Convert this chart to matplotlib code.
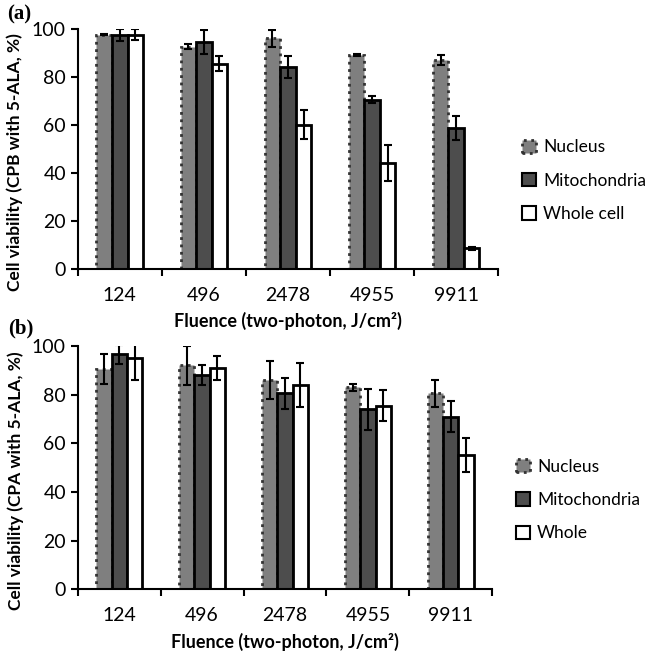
import numpy as np
import matplotlib
matplotlib.use("Agg")
import matplotlib.pyplot as plt
from matplotlib.patches import Patch

plt.rcParams['font.family'] = ['Lato', 'DejaVu Sans']

fluence = ['124', '496', '2478', '4955', '9911']

# panel (a): CPB with 5-ALA
a_nucleus = [97.5, 92.5, 96, 89, 87]
a_nucleus_err = [0.3, 1, 3.5, 0.5, 2]
a_mito = [97.5, 94.5, 84, 70.5, 58.5]
a_mito_err = [2.5, 5, 4.5, 1.5, 5]
a_whole = [97.5, 85.5, 60, 44, 8.5]
a_whole_err = [2.2, 3, 6, 7.5, 0.5]

# panel (b): CPA with 5-ALA
b_nucleus = [90.5, 92, 86, 83, 80.5]
b_nucleus_err = [6, 8, 8, 1.5, 5.5]
b_mito = [96.5, 88, 80.5, 74, 71]
b_mito_err = [4, 4, 6.5, 8.5, 6.5]
b_whole = [95, 91, 84, 75.5, 55]
b_whole_err = [9, 5, 9, 6.5, 7]

fig = plt.figure(figsize=(6.59, 6.54), dpi=100)
ax1 = fig.add_axes([0.118, 0.589, 0.638, 0.367])
ax2 = fig.add_axes([0.118, 0.099, 0.629, 0.372])

w = 0.185
x = np.arange(len(fluence))


def draw(ax, nuc, nuc_e, mit, mit_e, who, who_e, ylabel, names, panel, py):
    ek = dict(ecolor='black', elinewidth=1.5, capsize=3, capthick=1.5)
    ax.bar(x - w, nuc, w, yerr=nuc_e, color='#7f7f7f', edgecolor='#333333',
           linewidth=2, linestyle=':', error_kw=ek)
    ax.bar(x, mit, w, yerr=mit_e, color='#4d4d4d', edgecolor='black',
           linewidth=2, error_kw=ek)
    ax.bar(x + w, who, w, yerr=who_e, color='white', edgecolor='black',
           linewidth=2, error_kw=ek)
    ax.set_xlim(-0.5, len(fluence) - 0.5)
    ax.set_ylim(0, 100)
    ax.set_yticks([0, 20, 40, 60, 80, 100])
    ax.set_xticks(x)
    ax.set_xticklabels(fluence)
    ax.set_xticks(np.arange(-0.5, len(fluence)), minor=True)
    ax.tick_params(axis='x', which='major', length=0, pad=13, labelsize=14)
    ax.tick_params(axis='x', which='minor', length=5, width=1.5, direction='out')
    ax.tick_params(axis='y', length=5, width=1.5, direction='out', labelsize=14)
    for s in ['top', 'right']:
        ax.spines[s].set_visible(False)
    for s in ['left', 'bottom']:
        ax.spines[s].set_linewidth(1.5)
    ax.set_ylabel(ylabel, fontsize=12.5, fontweight='bold')
    ax.yaxis.set_label_coords(-0.13, 0.445)
    ax.set_xlabel('Fluence (two-photon, J/cm²)', fontsize=13,
                  fontweight='bold', labelpad=6)
    handles = [Patch(facecolor='#7f7f7f', edgecolor='#333333', linestyle=':', linewidth=2),
               Patch(facecolor='#4d4d4d', edgecolor='black', linewidth=1.5),
               Patch(facecolor='white', edgecolor='black', linewidth=1.5)]
    ax.legend(handles, names, loc='center left', bbox_to_anchor=(1.02, 0.367),
              frameon=False, fontsize=12.5, handlelength=0.8, handleheight=0.8,
              handletextpad=0.4, labelspacing=1.0)
    ax.text(-0.167, py, panel, transform=ax.transAxes, fontsize=15,
            fontweight='bold', family='Liberation Serif', ha='left', va='center')


draw(ax1, a_nucleus, a_nucleus_err, a_mito, a_mito_err, a_whole, a_whole_err,
     'Cell viability (CPB with 5-ALA, %)', ['Nucleus', 'Mitochondria', 'Whole cell'],
     '(a)', 1.058)
draw(ax2, b_nucleus, b_nucleus_err, b_mito, b_mito_err, b_whole, b_whole_err,
     'Cell viability (CPA with 5-ALA, %)', ['Nucleus', 'Mitochondria', 'Whole'],
     '(b)', 1.07)

fig.savefig('out.png', dpi=100)
